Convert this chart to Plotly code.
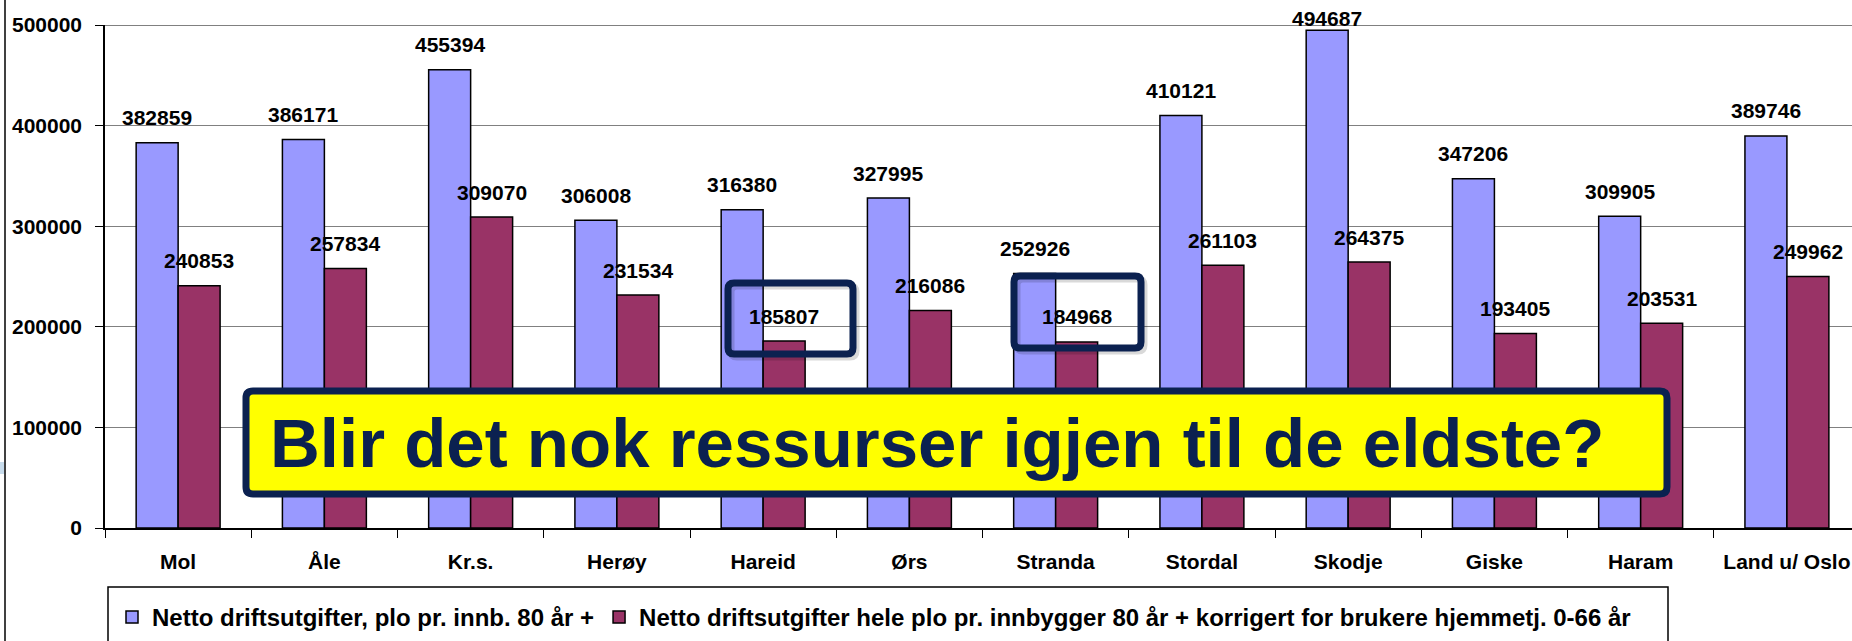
import plotly.graph_objects as go

categories = ["Mol", "Åle", "Kr.s.", "Herøy", "Hareid", "Ørs", "Stranda",
              "Stordal", "Skodje", "Giske", "Haram", "Land u/ Oslo"]
series1_name = "Netto driftsutgifter, plo pr. innb. 80 år +"
series2_name = "Netto driftsutgifter hele plo pr. innbygger 80 år + korrigert for brukere hjemmetj. 0-66 år"
series1 = [382859, 386171, 455394, 306008, 316380, 327995, 252926,
           410121, 494687, 347206, 309905, 389746]
series2 = [240853, 257834, 309070, 231534, 185807, 216086, 184968,
           261103, 264375, 193405, 203531, 249962]
y_ticks = [0, 100000, 200000, 300000, 400000, 500000]
headline = "Blir det nok ressurser igjen til de eldste?"

W, H = 1852, 641
L, R, T, B = 105, 1852, 25, 528
YMAX = 500000
FONT = "Liberation Sans, Arial, sans-serif"
FS = 21
NAVY = "#0b2150"
BLUE = "#9999ff"
RED = "#993366"
BARGAP = 0.426

def px_x(px):
    return (px - L) / (R - L)

def px_y(py):
    return (B - py) / (B - T)

def rounded_rect(x0, y0, x1, y1, r):
    def P(x, y):
        return f"{px_x(x):.5f},{px_y(y):.5f}"
    return (f"M {P(x0 + r, y0)} L {P(x1 - r, y0)} Q {P(x1, y0)} {P(x1, y0 + r)} "
            f"L {P(x1, y1 - r)} Q {P(x1, y1)} {P(x1 - r, y1)} "
            f"L {P(x0 + r, y1)} Q {P(x0, y1)} {P(x0, y1 - r)} "
            f"L {P(x0, y0 + r)} Q {P(x0, y0)} {P(x0 + r, y0)} Z")

fig = go.Figure()
fig.add_trace(go.Bar(x=categories, y=series1, name=series1_name,
                     marker=dict(color=BLUE, line=dict(color="black", width=1.5))))
fig.add_trace(go.Bar(x=categories, y=series2, name=series2_name,
                     marker=dict(color=RED, line=dict(color="black", width=1.5))))

half = (1 - BARGAP) / 4
annotations = []
for i, (v1, v2) in enumerate(zip(series1, series2)):
    for off, v in ((-half, v1), (half, v2)):
        bar_top_px = B - v / YMAX * (B - T)
        shift = min(25, bar_top_px - 19)  # keep label inside the chart area
        annotations.append(dict(x=i + off, y=v, xref="x", yref="y", text=str(v),
                                showarrow=False, yanchor="middle", yshift=shift,
                                font=dict(family=FONT, size=FS, color="black", weight="bold")))

# headline
annotations.append(dict(x=px_x(268), y=px_y(443), xref="paper", yref="paper",
                        text=headline, showarrow=False, xanchor="left", yanchor="middle",
                        font=dict(family=FONT, size=69, color=NAVY, weight="bold")))

shapes = []
for (x0, y0, x1, y1) in [(728, 283, 853, 354), (1014, 276, 1141, 348)]:
    shapes.append(dict(type="path", xref="paper", yref="paper",
                       path=rounded_rect(x0 + 3, y0 + 3, x1 + 3, y1 + 3, 6),
                       line=dict(color="rgba(0,0,0,0.15)", width=7)))
    shapes.append(dict(type="path", xref="paper", yref="paper",
                       path=rounded_rect(x0, y0, x1, y1, 6),
                       line=dict(color=NAVY, width=7)))
shapes.append(dict(type="path", xref="paper", yref="paper",
                   path=rounded_rect(246, 391, 1667, 494, 7),
                   fillcolor="#ffff00", line=dict(color=NAVY, width=7), layer="above"))
shapes.append(dict(type="rect", xref="paper", yref="paper",
                   x0=px_x(108), x1=px_x(1668), y0=px_y(587), y1=px_y(660),
                   line=dict(color="black", width=1.5)))
shapes.append(dict(type="line", xref="paper", yref="paper",
                   x0=px_x(5), x1=px_x(5), y0=px_y(0), y1=px_y(641),
                   line=dict(color="black", width=1.5)))
shapes.append(dict(type="rect", xref="paper", yref="paper",
                   x0=px_x(0), x1=px_x(4), y0=px_y(462), y1=px_y(474),
                   fillcolor="#c8dcec", line=dict(width=0)))
shapes.append(dict(type="line", xref="paper", yref="y", x0=0, x1=1, y0=YMAX, y1=YMAX,
                   line=dict(color="#808080", width=2)))

fig.update_layout(
    width=W, height=H,
    margin=dict(l=L, r=W - R, t=T, b=H - B, pad=0, autoexpand=False),
    paper_bgcolor="white", plot_bgcolor="white",
    barmode="group", bargap=BARGAP, bargroupgap=0,
    annotations=annotations, shapes=shapes,
    showlegend=True,
    legend=dict(orientation="h", xref="container", yref="container",
                x=112 / W, y=1 - 595 / H, xanchor="left", yanchor="top",
                font=dict(family=FONT, size=24, color="black", weight="bold"),
                bgcolor="rgba(0,0,0,0)", borderwidth=0, itemwidth=30,
                traceorder="normal"),
    font=dict(family=FONT, color="black"),
)
fig.update_xaxes(type="category", range=[-0.5, 11.445], showline=True,
                 linecolor="black", linewidth=1.5, ticks="outside", tickson="boundaries",
                 ticklen=8, tickcolor="black", tickwidth=1.2, showgrid=False,
                 tickangle=0, automargin=False,
                 tickfont=dict(family=FONT, size=21, color="black", weight="bold"),
                 ticklabelstandoff=14)
fig.update_yaxes(range=[0, YMAX], tickvals=y_ticks, tickformat="d",
                 showline=True, linecolor="black", linewidth=1.5,
                 ticks="outside", ticklen=8, tickcolor="black", tickwidth=1.2,
                 showgrid=True, gridcolor="#808080", gridwidth=1.2, automargin=False,
                 tickfont=dict(family=FONT, size=FS, color="black", weight="bold"),
                 ticklabelstandoff=9, zeroline=False)

fig.write_html("out.html", config={"displayModeBar": False},
               post_script="document.body.style.margin='0';document.body.style.overflow='hidden';")
